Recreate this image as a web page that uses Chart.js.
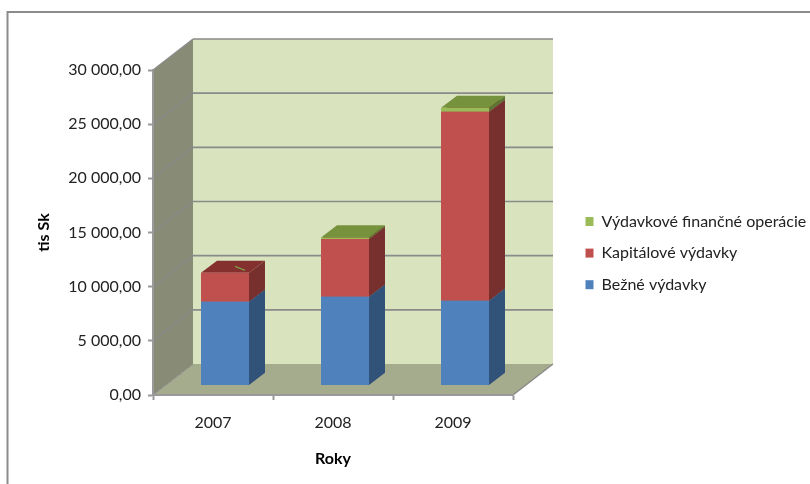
<!DOCTYPE html>
<html>
<head>
<meta charset="utf-8">
<style>html,body{margin:0;padding:0;background:#fff}canvas{display:block}</style>
<script src="https://cdn.jsdelivr.net/npm/chart.js@4/dist/chart.umd.js"></script>
</head>
<body>
<canvas id="c" width="810" height="484"></canvas>
<script>
const categories = ['2007', '2008', '2009'];
const bezneVydavky = [7720, 8180, 7810];
const kapitaloveVydavky = [2670, 5330, 17440];
const financneOperacie = [10, 140, 370];
const yMax = 30000;
const yStep = 5000;

const frontColors = ['#4f81bd', '#c0504d', '#9bbb59'];
const sideColors = ['#31537a', '#77302e', '#5f7535'];
const topColors = ['#3d648f', '#83302f', '#76923c'];
const DEPTH = {x: 40, y: -31};
const BAR_SHIFT = {x: 12, y: -9.6};
const BAR_DEPTH = {x: 16, y: -12.2};
const GRAY = '#8a8a8a';

function poly(ctx, pts, fill) {
  ctx.beginPath();
  pts.forEach((p, i) => i ? ctx.lineTo(p[0], p[1]) : ctx.moveTo(p[0], p[1]));
  ctx.closePath();
  ctx.fillStyle = fill;
  ctx.fill();
}
function seg(ctx, a, b, w) {
  ctx.beginPath();
  ctx.moveTo(a[0], a[1]);
  ctx.lineTo(b[0], b[1]);
  ctx.lineWidth = w;
  ctx.strokeStyle = GRAY;
  ctx.stroke();
}

const walls = {
  id: 'walls',
  beforeDraw(chart) {
    const {ctx, chartArea: a, scales: {y}} = chart;
    const dx = DEPTH.x, dy = DEPTH.y;
    ctx.save();
    // outer frame
    ctx.strokeStyle = '#8c8c8c';
    ctx.lineWidth = 2;
    ctx.beginPath();
    ctx.moveTo(7.5, 490);
    ctx.lineTo(7.5, 12);
    ctx.lineTo(815, 12);
    ctx.stroke();
    // back wall, side wall, floor
    poly(ctx, [[a.left + dx, a.top + dy], [a.right + dx, a.top + dy], [a.right + dx, a.bottom + dy], [a.left + dx, a.bottom + dy]], '#d9e4bf');
    poly(ctx, [[a.left, a.top], [a.left + dx, a.top + dy], [a.left + dx, a.bottom + dy], [a.left, a.bottom]], '#888c76');
    poly(ctx, [[a.left, a.bottom], [a.right, a.bottom], [a.right + dx, a.bottom + dy], [a.left + dx, a.bottom + dy]], '#a5ab8d');
    for (let v = yStep; v <= yMax; v += yStep) {
      const p = y.getPixelForValue(v);
      seg(ctx, [a.left, p], [a.left + dx, p + dy], 1.2);
      seg(ctx, [a.left + dx, p + dy], [a.right + dx, p + dy], 1.6);
    }
    seg(ctx, [a.left, a.bottom], [a.left + dx, a.bottom + dy], 1);
    seg(ctx, [a.right, a.bottom], [a.right + dx, a.bottom + dy], 1.4);
    ctx.restore();
  },
  beforeDatasetsDraw(chart) {
    const {ctx} = chart;
    ctx.save();
    ctx.translate(BAR_SHIFT.x, BAR_SHIFT.y);
    // depth faces of the bars, bottom segment first
    chart.data.datasets.forEach((ds, i) => {
      chart.getDatasetMeta(i).data.forEach(bar => {
        const h = Math.abs(bar.base - bar.y);
        if (h < 1) return;
        const x1 = bar.x + bar.width / 2, x0 = bar.x - bar.width / 2;
        const bx = BAR_DEPTH.x, by = BAR_DEPTH.y;
        poly(ctx, [[x1, bar.y], [x1 + bx, bar.y + by], [x1 + bx, bar.base + by], [x1, bar.base]], sideColors[i]);
        poly(ctx, [[x0, bar.y], [x1, bar.y], [x1 + bx, bar.y + by], [x0 + bx, bar.y + by]], topColors[i]);
      });
    });
    // small green sliver showing on the 2007 top
    const b = chart.getDatasetMeta(1).data[0];
    ctx.strokeStyle = '#7f9a45';
    ctx.lineWidth = 1.2;
    ctx.beginPath();
    ctx.moveTo(b.x + 10, b.y - 6.5);
    ctx.lineTo(b.x + 20, b.y - 2.5);
    ctx.stroke();
  },
  afterDatasetsDraw(chart) {
    chart.ctx.restore();
  },
  beforeLayout(chart) {
    const l = chart.legend;
    if (!l.__fitted) {
      const fit = l.fit;
      l.fit = function () { fit.call(this); this.width = 297; };
      l.__fitted = true;
    }
  },
  afterLayout(chart) {
    const l = chart.legend;
    const pad = l.options.labels.padding;
    l.left = 585.5 - pad;
    l.top = 213.5 - pad;
    l.bottom = 484;
  }
};

const fontFamily = 'Lato, "Open Sans", sans-serif';

new Chart(document.getElementById('c'), {
  type: 'bar',
  plugins: [walls],
  data: {
    labels: categories,
    datasets: [
      {label: 'Bežné výdavky', data: bezneVydavky, backgroundColor: frontColors[0]},
      {label: 'Kapitálové výdavky', data: kapitaloveVydavky, backgroundColor: frontColors[1]},
      {label: 'Výdavkové finančné operácie', data: financneOperacie, backgroundColor: frontColors[2]}
    ].map(d => Object.assign(d, {borderWidth: 0, categoryPercentage: 1, barPercentage: 0.4, clip: false}))
  },
  options: {
    responsive: false,
    animation: false,
    layout: {padding: {left: 34, top: 70, right: 0, bottom: 16}},
    plugins: {
      tooltip: {enabled: false},
      title: {display: false},
      legend: {
        position: 'right',
        align: 'start',
        reverse: true,
        labels: {boxWidth: 8, boxHeight: 9, padding: 15.6, color: '#222', font: {family: fontFamily, size: 16}}
      }
    },
    scales: {
      x: {
        stacked: true,
        afterFit(s) { s.height = 484 - 16 - 395; },
        grid: {drawOnChartArea: false, color: '#999', tickLength: 5, tickWidth: 2},
        border: {color: '#999', width: 2},
        ticks: {color: '#222', padding: 13, font: {family: fontFamily, size: 16}, maxRotation: 0},
        title: {display: true, text: 'Roky', color: '#000', padding: 0, font: {family: fontFamily, size: 16, weight: 'bold'}}
      },
      y: {
        stacked: true,
        min: 0,
        max: yMax,
        afterFit(s) { s.width = 153 - 34; },
        grid: {drawOnChartArea: false, color: '#999', tickLength: 5, tickWidth: 2},
        border: {color: '#999', width: 2},
        ticks: {
          stepSize: yStep,
          color: '#222',
          padding: 7,
          font: {family: fontFamily, size: 16},
          callback: v => v.toLocaleString('en-US', {minimumFractionDigits: 2, maximumFractionDigits: 2}).replace(/,/g, ' ').replace('.', ',')
        },
        title: {display: true, text: 'tis Sk', color: '#000', padding: 0, font: {family: fontFamily, size: 16, weight: 'bold'}}
      }
    }
  }
});
</script>
</body>
</html>
